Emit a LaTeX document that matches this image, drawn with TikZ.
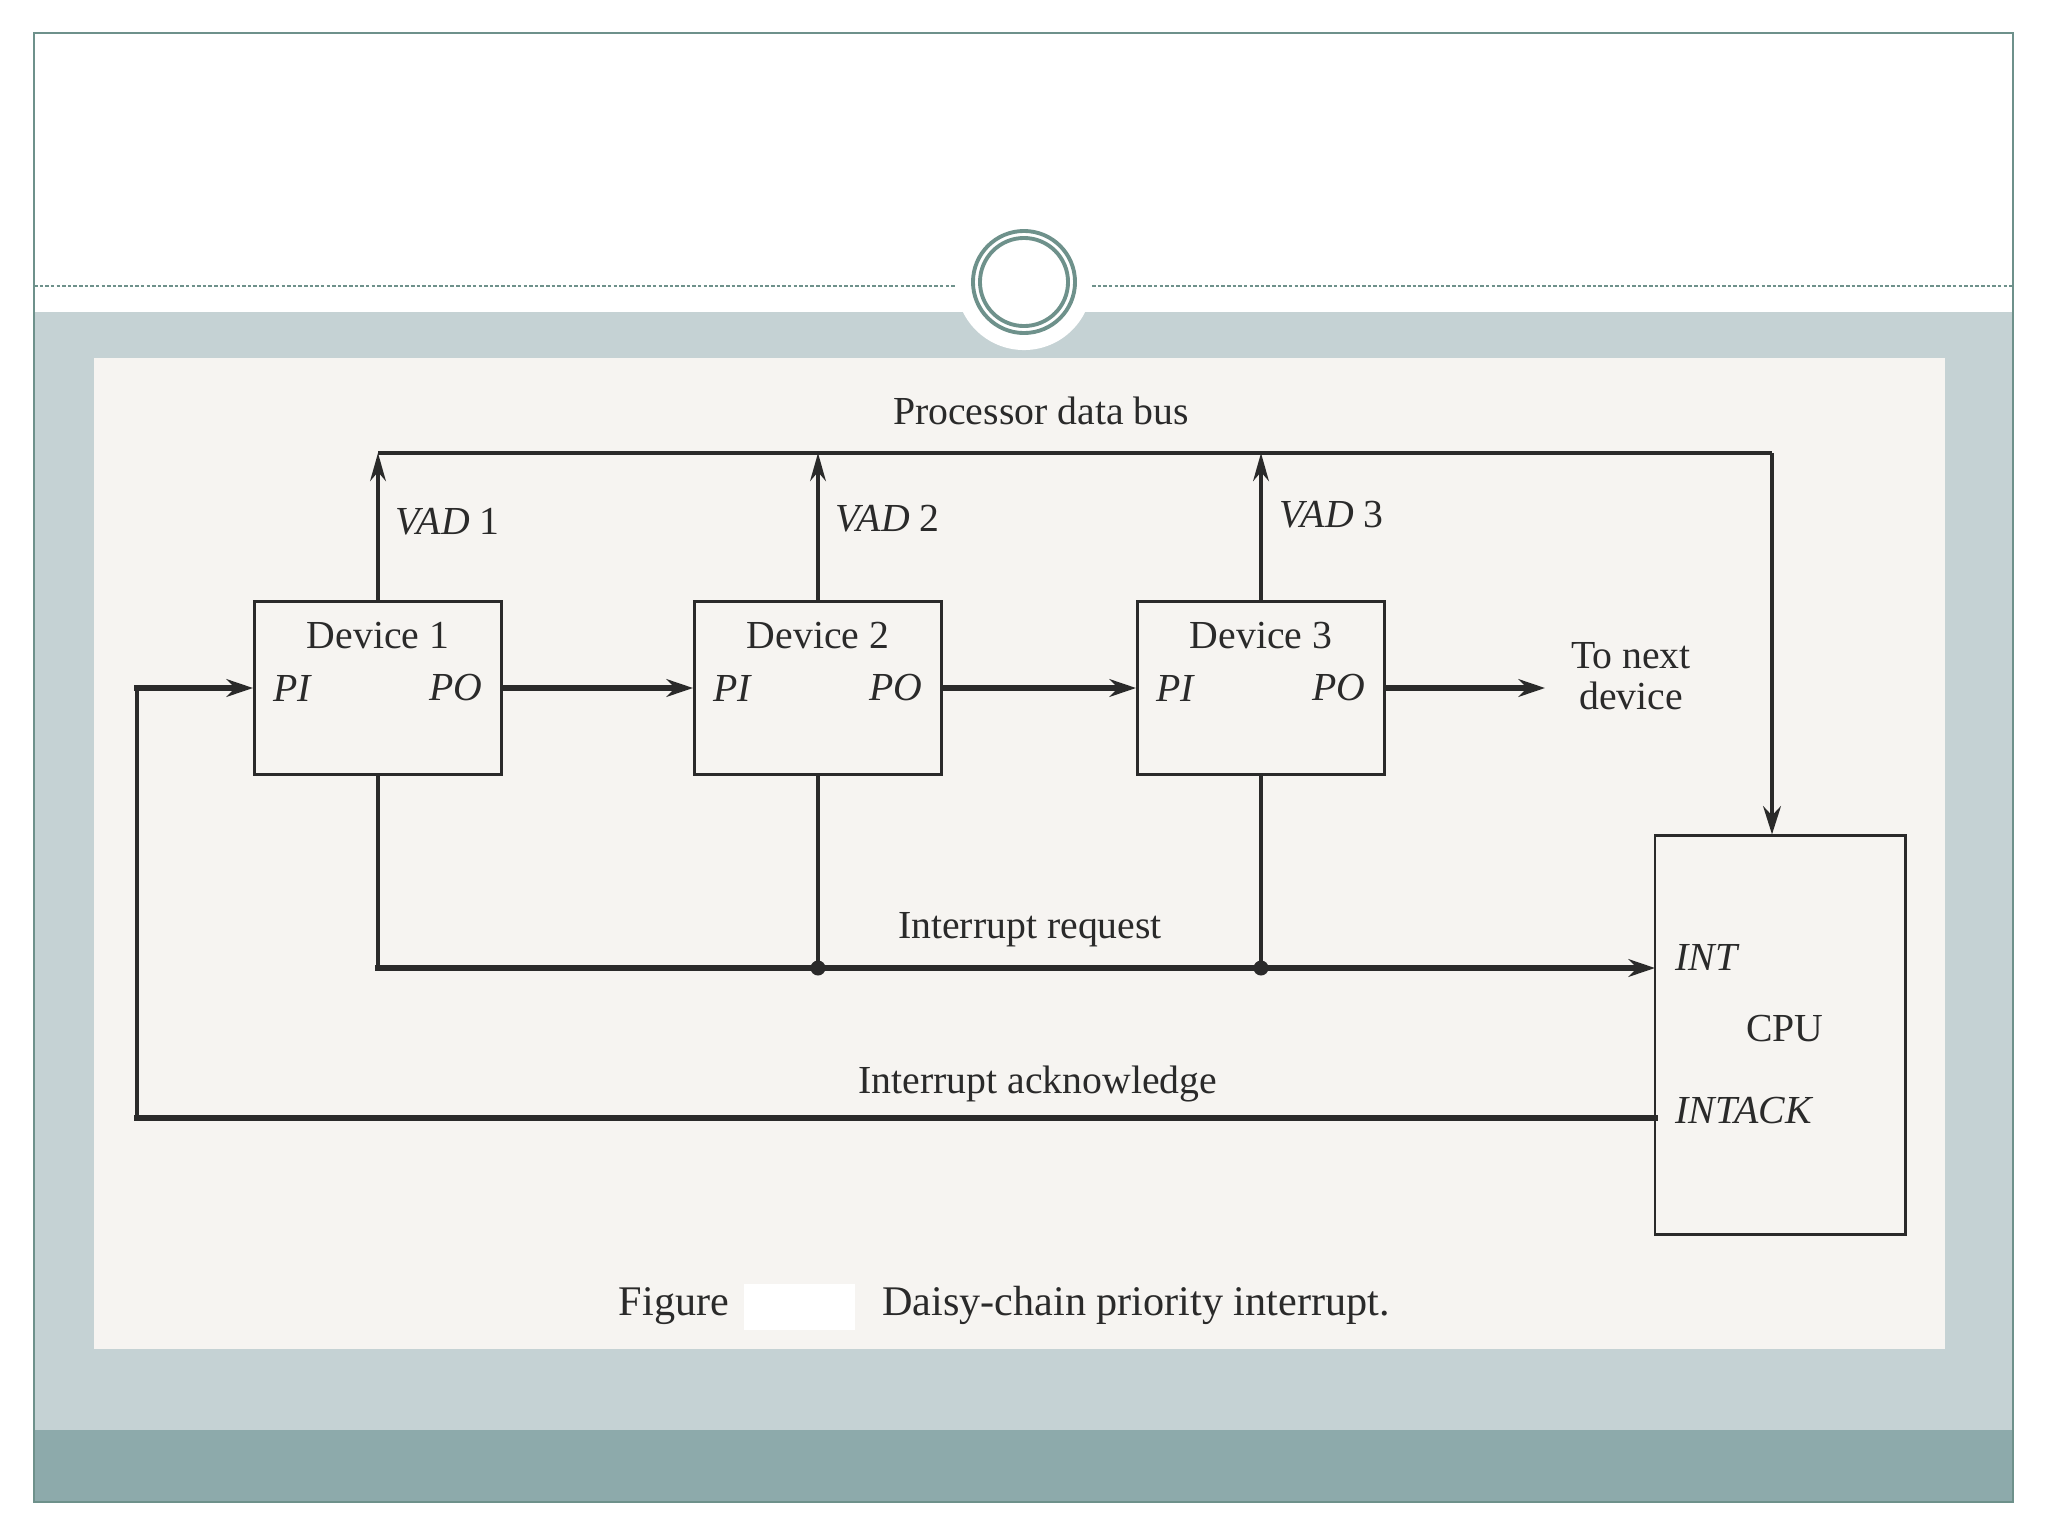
\documentclass[tikz,border=0pt]{standalone}
\usepackage{fontspec}
\setmainfont{Liberation Serif}
\usetikzlibrary{arrows.meta, positioning}
\definecolor{slideteal}{HTML}{6E918B}
\definecolor{slidegray}{HTML}{C5D2D4}
\definecolor{slidedark}{HTML}{8DAAAB}
\definecolor{paper}{HTML}{F6F4F1}
\definecolor{ink}{HTML}{2A2A2A}
\tikzset{
  devbox/.style={rectangle, draw=ink, line width=0.8pt, minimum width=#1,
                 minimum height=1.73cm, inner sep=0pt},
  devbox/.default=2.47cm,
  cpubox/.style={rectangle, draw=ink, line width=0.8pt, minimum width=2.5cm,
                 minimum height=3.98cm, inner sep=0pt},
  wire/.style={draw=ink, line width=0.9pt},
  bus/.style={draw=ink, line width=1.4pt},
  chain/.style={draw=ink, line width=1.6pt, -{Stealth[length=7.5pt, width=5pt]}},
  vad/.style={draw=ink, line width=0.9pt, -{Stealth[length=8pt, width=4.5pt]}},
  lbl/.style={text=ink, font=\fontsize{11.3}{11.5}\selectfont},
}
\begin{document}
\begin{tikzpicture}[x=0.01cm, y=-0.01cm]
        % slide frame
        \useasboundingbox (0,0) rectangle (2048,1536);
        \fill[white] (0,0) rectangle (2048,1536);
        \fill[slidegray] (34,312) rectangle (2013,1430);
        \fill[slidedark] (34,1430) rectangle (2013,1502);
        \draw[slideteal, line width=0.5pt] (34,33) rectangle (2013,1502);
        \draw[slideteal, dash pattern=on 1pt off 0.6pt, line width=0.7pt] (34,286) -- (956,286);
        \draw[slideteal, dash pattern=on 1pt off 0.6pt, line width=0.7pt] (1092,286) -- (2013,286);
        \fill[white] (1024,282) circle (0.68cm);
        \draw[slideteal, line width=1.1pt] (1024,282) circle (0.51cm);
        \draw[slideteal, line width=1.1pt] (1024,282) circle (0.44cm);
        \fill[paper] (94,358) rectangle (1945,1349);

        % devices and CPU
        \node[devbox] (dev1) at (378,688) {};
        \node[devbox] (dev2) at (818,688) {};
        \node[devbox] (dev3) at (1261,688) {};
        \node[cpubox] (cpu) at (1780,1035) {};
        \node[lbl, below=0.1cm of dev1.north] (dev1name) {Device 1};
        \node[lbl, below=0.1cm of dev2.north] (dev2name) {Device 2};
        \node[lbl, below=0.1cm of dev3.north] (dev3name) {Device 3};
        \node[lbl, right=0.08cm of dev1.west] (pi1) {\textit{PI}};
        \node[lbl, left=0.08cm of dev1.east] (po1) {\textit{PO}};
        \node[lbl, right=0.08cm of dev2.west] (pi2) {\textit{PI}};
        \node[lbl, left=0.08cm of dev2.east] (po2) {\textit{PO}};
        \node[lbl, right=0.08cm of dev3.west] (pi3) {\textit{PI}};
        \node[lbl, left=0.08cm of dev3.east] (po3) {\textit{PO}};
        \node[lbl, anchor=west] (inttxt) at (1663,957) {\textit{INT}};
        \node[lbl] (cputxt) at (1785,1029) {CPU};
        \node[lbl, anchor=west] (intacktxt) at (1663,1111) {\textit{INTACK}};

        % processor data bus
        \coordinate (busR) at (1772,453);
        \draw[bus] (dev1.north |- busR) -- (busR);
        \draw[bus, -{Stealth[length=8pt, width=5pt]}] (busR) -- (busR |- cpu.north);
        \draw[vad] (dev1.north) -- (dev1.north |- busR);
        \draw[vad] (dev2.north) -- (dev2.north |- busR);
        \draw[vad] (dev3.north) -- (dev3.north |- busR);
        \node[lbl] (bustxt) at (1041,411) {Processor data bus};
        \node[lbl, anchor=west] (vad1) at (383,522) {\textit{VAD}~1};
        \node[lbl, anchor=west] (vad2) at (823,519) {\textit{VAD}~2};
        \node[lbl, anchor=west] (vad3) at (1267,515) {\textit{VAD}~3};

        % priority chain
        \coordinate (nxt) at (1545,688);
        \draw[chain] (dev1.east) -- (dev2.west);
        \draw[chain] (dev2.east) -- (dev3.west);
        \draw[chain] (dev3.east) -- (nxt);
        \node[lbl, align=center] (nexttxt) at (1631,676) {To next\\device};

        % interrupt request
        \coordinate (intpin) at (1655,968);
        \draw[wire] (dev1.south) -- (dev1.south |- intpin);
        \draw[chain, line cap=rect] (dev1.south |- intpin) -- (intpin);
        \draw[wire] (dev2.south) -- (dev2.south |- intpin);
        \draw[wire] (dev3.south) -- (dev3.south |- intpin);
        \fill[ink] (dev2.south |- intpin) circle (0.075cm);
        \fill[ink] (dev3.south |- intpin) circle (0.075cm);
        \node[lbl] (irqtxt) at (1030,930) {Interrupt request};

        % interrupt acknowledge
        \coordinate (ackpin) at (1655,1118);
        \coordinate (ackturn) at (137,1118);
        \draw[bus, line width=1.6pt, line cap=rect] (ackpin) -- (ackturn);
        \draw[wire] (ackturn) -- (ackturn |- dev1.west);
        \draw[chain, line cap=rect] (ackturn |- dev1.west) -- (dev1.west);
        \node[lbl] (acktxt) at (1038,1084) {Interrupt acknowledge};

        % caption
        \fill[white] (744,1284) rectangle (855,1330);
        \node[lbl, font=\fontsize{12}{14}\selectfont] (figtxt) at (674,1306) {Figure};
        \node[lbl, font=\fontsize{12}{14}\selectfont] (captxt) at (1136,1305) {Daisy-chain priority interrupt.};
\end{tikzpicture}
\end{document}
